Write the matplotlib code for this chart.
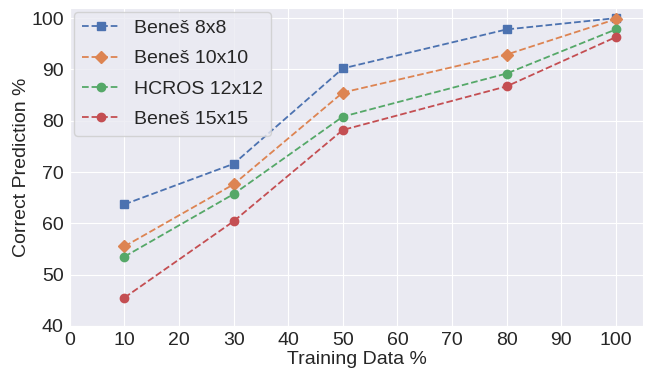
import matplotlib.pyplot as plt
import seaborn as sns

sns.set_style('darkgrid')
plt.rcParams['font.family'] = ['Liberation Sans', 'DejaVu Sans']

# Data
training = [10, 30, 50, 80, 100]
benes_8 = [63.7, 71.6, 90.2, 97.8, 100.0]
benes_10 = [55.5, 67.6, 85.5, 92.9, 99.8]
hcros_12 = [53.5, 65.7, 80.8, 89.2, 97.8]
benes_15 = [45.5, 60.4, 78.2, 86.7, 96.3]

pal = sns.color_palette('deep')

fig = plt.figure(figsize=(6.47, 3.75), dpi=100)
ax = fig.add_axes([0.108, 0.131, 0.886, 0.848])

ax.plot(training, benes_8, '--s', color=pal[0], lw=1.3, markersize=6, label='Beneš 8x8')
ax.plot(training, benes_10, '--D', color=pal[1], lw=1.3, markersize=6, label='Beneš 10x10')
ax.plot(training, hcros_12, '--o', color=pal[2], lw=1.3, markersize=6, label='HCROS 12x12')
ax.plot(training, benes_15, '--o', color=pal[3], lw=1.3, markersize=6, label='Beneš 15x15')

ax.set_xlim(0, 105)
ax.set_ylim(40, 102)
ax.set_xticks(range(0, 101, 10))
ax.set_yticks(range(40, 101, 10))
ax.tick_params(labelsize=14, pad=1)
ax.set_xlabel('Training Data %', fontsize=14, labelpad=1)
ax.set_ylabel('Correct Prediction %', fontsize=14, labelpad=1)
ax.legend(loc='upper left', fontsize=14, handlelength=2.0, borderaxespad=0.2,
          labelspacing=0.65, handletextpad=0.7)

plt.savefig('out.png')
